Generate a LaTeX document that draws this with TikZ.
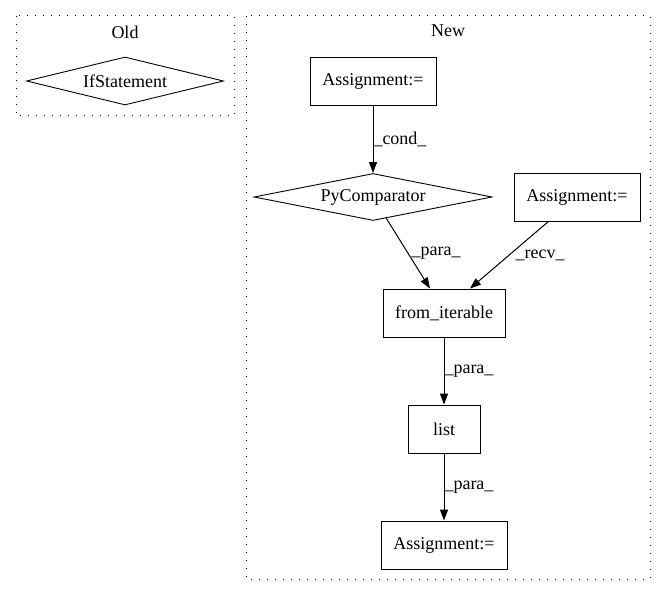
\documentclass[tikz,border=0pt]{standalone}
\usepackage{fontspec}
\setmainfont{Liberation Serif}
\usetikzlibrary{shapes.geometric,arrows.meta,calc}
\begin{document}
\begin{tikzpicture}[x=1bp,y=-1bp,
  every node/.style={font=\fontsize{18bp}{21bp}\selectfont},
  box/.style={draw,line width=0.9bp,rectangle,minimum height=48bp,inner sep=0pt},
  dia/.style={draw,line width=0.9bp,diamond,aspect=5,inner sep=0pt},
  cluster/.style={draw,line width=1bp,dash pattern=on 1.2bp off 6.8bp},
  edge/.style={line width=1bp,-{Triangle[length=11bp,width=8bp]}},
  elabel/.style={anchor=west,inner sep=0pt}]
\useasboundingbox (0,0) rectangle (667,596);
% clusters
\draw[cluster] (16,16) rectangle (234,116);
\draw[cluster] (246,16) rectangle (650,579);
\node (oldlbl) at (125,32) {Old};
\node (newlbl) at (448,31) {New};
% nodes
\node[dia,minimum width=197bp,minimum height=48bp] (ifs) at (125,81) {IfStatement};
\node[box,minimum width=126bp] (ast) at (373,81) {Assignment:=};
\node[dia,minimum width=238bp,minimum height=47bp] (pyc) at (373,197) {PyComparator};
\node[box,minimum width=126bp] (asr) at (577,197) {Assignment:=};
\node[box,minimum width=122bp] (fi) at (444,313) {from\_iterable};
\node[box,minimum width=72bp] (lst) at (444,429) {list};
\node[box,minimum width=126bp] (asb) at (444,545) {Assignment:=};
% edges
\draw[edge] (ast) -- node[elabel,xshift=0bp] {\_cond\_} (pyc);
\draw[edge] (pyc) -- node[elabel,xshift=3bp] {\_para\_} ($(fi.north)+(-14,0)$);
\draw[edge] (asr) -- node[elabel,xshift=6bp] {\_recv\_} ($(fi.north)+(26,0)$);
\draw[edge] (fi) -- node[elabel,xshift=0bp] {\_para\_} (lst);
\draw[edge] (lst) -- node[elabel,xshift=0bp] {\_para\_} (asb);
\end{tikzpicture}
\end{document}
